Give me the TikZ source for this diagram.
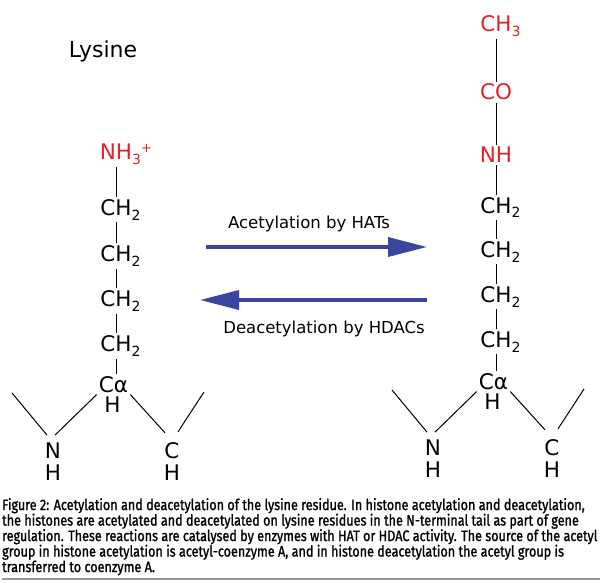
\documentclass[tikz,border=0pt]{standalone}
\usepackage{fontspec}
\setmainfont{DejaVu Sans}
\newfontfamily\capfont[FakeStretch=0.83, FakeBold=1.2]{Fira Sans}
\usetikzlibrary{arrows.meta}

\definecolor{acetred}{RGB}{230,32,40}
\definecolor{arrowblue}{RGB}{58,70,158}
\newcommand{\chsub}[1]{\raisebox{-5pt}{\fontsize{14}{14}\selectfont #1}}
\newcommand{\chsup}[1]{\raisebox{7pt}{\fontsize{13}{13}\selectfont #1}}

\tikzset{
    atom/.style={font=\fontsize{21.5}{24}\selectfont, inner sep=2pt, anchor=base},
    bond/.style={line width=1pt},
    rxnlabel/.style={font=\fontsize{16.5}{18}\selectfont, anchor=base},
    reaction/.style={arrowblue, line width=3.5pt, -{Triangle[length=39pt,width=19pt]}}
}

\begin{document}
\begin{tikzpicture}[x=1pt,y=-1pt]
    \useasboundingbox (0,0) rectangle (600,583);
    % Title
    \node[font=\fontsize{22}{24}\selectfont, anchor=base] (Title) at (103,58) {Lysine};
    % Lysine side chain
    \node[atom, acetred] (Lys-0) at (116,160) {NH\rlap{\chsub{3}\chsup{+}}};
    \foreach \i/\y in {1/215,2/261.5,3/306.5,4/351.5} {
        \node[atom] (Lys-\i) at (116,\y) {CH\rlap{\chsub{2}}};
    }
    % Acetyl-lysine side chain
    \node[atom, acetred] (Acl-CH3) at (496,31.5) {CH\rlap{\chsub{3}}};
    \node[atom, acetred] (Acl-CO) at (496,100) {CO};
    \node[atom, acetred] (Acl-0) at (496,163) {NH};
    \foreach \i/\y in {1/213,2/257,3/302,4/347} {
        \node[atom] (Acl-\i) at (496,\y) {CH\rlap{\chsub{2}}};
    }
    % Backbone
    \foreach \s/\dx/\dy in {Lys/0/0,Acl/380/-3} {
        \node[atom] (\s-Ca) at (113.5+\dx,392+\dy) {Cα};
        \node[atom] (\s-H) at (112.5+\dx,412+\dy) {H};
        \node[atom] (\s-N) at (53+\dx,458+\dy) {N};
        \node[atom] (\s-NH) at (53+\dx,480+\dy) {H};
        \node[atom] (\s-C) at (172+\dx,458+\dy) {C};
        \node[atom] (\s-CH) at (172+\dx,480+\dy) {H};
        \coordinate (\s-in) at (12+\dx,393+\dy);
        \coordinate (\s-out) at (204+\dx,392+\dy);
    }
    % Bonds
    \foreach \s in {Lys,Acl} {
        \foreach \i/\j in {0/1,1/2,2/3,3/4} {
            \draw[bond] (\s-\i) -- (\s-\j);
        }
        \draw[bond] (\s-4) -- (\s-Ca.north -| \s-4);
        \draw[bond] (\s-in) -- ([xshift=-6pt,yshift=5pt]\s-N.north);
        \draw[bond] ([xshift=2pt,yshift=5pt]\s-N.north) -- (\s-Ca.south west);
        \draw[bond] (\s-Ca.south east) -- ([xshift=-7pt,yshift=7pt]\s-C.north);
        \draw[bond] ([xshift=6pt,yshift=8pt]\s-C.north) -- (\s-out);
    }
    \draw[bond] (Acl-CH3) -- (Acl-CO);
    \draw[bond] (Acl-CO) -- (Acl-0);
    % Reactions
    \coordinate (HAT-start) at (206,247);
    \coordinate (HAT-end) at (427,247);
    \coordinate (HDAC-start) at (427,300);
    \coordinate (HDAC-end) at (200,300);
    \draw[reaction] (HAT-start) -- (HAT-end);
    \draw[reaction] (HDAC-start) -- (HDAC-end);
    \node[rxnlabel] (HAT-label) at (309,228) {Acetylation by HATs};
    \node[rxnlabel] (HDAC-label) at (324,333) {Deacetylation by HDACs};
    % Caption
    \node[anchor=north west, inner sep=0pt, align=left,
          font=\capfont\fontsize{15.2}{15.5}\selectfont] (Caption) at (2,498)
        {Figure 2: Acetylation and deacetylation of the lysine residue. In histone acetylation and deacetylation,\\
         the histones are acetylated and deacetylated on lysine residues in the N-terminal tail as part of gene\\
         regulation. These reactions are catalysed by enzymes with HAT or HDAC activity. The source of the acetyl\\
         group in histone acetylation is acetyl-coenzyme A, and in histone deacetylation the acetyl group is\\
         transferred to coenzyme A.};
    \draw[black!40, line width=1.5pt] (2,579) -- (600,579);
\end{tikzpicture}
\end{document}
